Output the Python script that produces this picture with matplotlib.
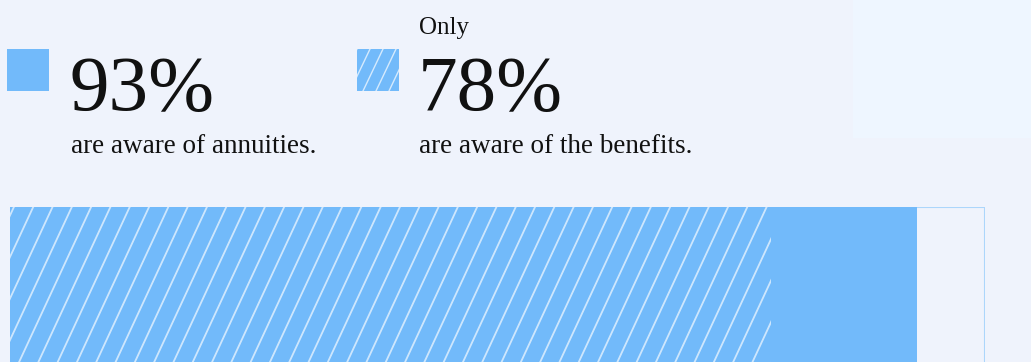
import numpy as np
import matplotlib
matplotlib.use("Agg")
import matplotlib.pyplot as plt
from matplotlib.patches import Rectangle

# awareness figures (percent of respondents)
aware_annuities = 93
aware_benefits = 78
big_labels = ["93%", "78%"]
sub_labels = ["are aware of annuities.", "are aware of the benefits."]
lead_word = "Only"

BG = "#eff3fc"
BLUE = "#72bafa"
EDGE = "#acd6fb"
W, H = 1031, 362

plt.rcParams["font.family"] = ["Liberation Serif", "DejaVu Serif"]

fig = plt.figure(figsize=(W / 100, H / 100), dpi=100, facecolor=BG)

# canvas in pixel coordinates for the legend block
canvas = fig.add_axes([0, 0, 1, 1])
canvas.set_xlim(0, W)
canvas.set_ylim(H, 0)
canvas.axis("off")
canvas.add_patch(Rectangle((853, 0), W - 853, 138, color="#eef6ff", lw=0, zorder=0))


def hatch_lines(ax, clip, x0, x1, y0, y1, step, lean, **kw):
    # slanted hatch lines in pixel space, clipped to a patch
    for xs in np.arange(x0 - lean, x1 + lean, step):
        ln, = ax.plot([xs, xs + lean], [y1, y0], **kw)
        ln.set_clip_path(clip)


# legend swatches
canvas.add_patch(Rectangle((7, 49), 42, 42, color=BLUE, lw=0))
sw = Rectangle((357, 49), 42, 42, color=BLUE, lw=0)
canvas.add_patch(sw)
hatch_lines(canvas, sw, 357, 399, 49, 91, 13, 20, color="white", lw=1.0, alpha=0.7)

# legend text
txt = dict(color="#111111", va="baseline")
canvas.text(70, 110, big_labels[0], fontsize=57, **txt)
canvas.text(418, 110, big_labels[1], fontsize=57, **txt)
canvas.text(419, 34, lead_word, fontsize=18, **txt)
canvas.text(71, 153, sub_labels[0], fontsize=19.5, **txt)
canvas.text(419, 153, sub_labels[1], fontsize=19.5, **txt)

# stacked awareness bar
ax = fig.add_axes([10 / W, 0, 975 / W, 155 / H])
ax.set_xlim(0, 100)
ax.set_ylim(0, 1)
ax.axis("off")
ax.add_patch(Rectangle((0, -0.5), 100, 1.5, facecolor=BG, edgecolor=EDGE, lw=1.5))
ax.barh(0.25, aware_annuities, height=1.5, left=0, color=BLUE, lw=0)
hatched = ax.barh(0.25, aware_benefits, height=1.5, left=0, color="none", lw=0)[0]

# hatch lines for the "aware of benefits" share, spacing given in pixels
x_step = 19.3 / (975 / 100)
lean = 72.0 / (975 / 100)
for xs in np.arange(0.4 - lean, aware_benefits + lean, x_step):
    ln, = ax.plot([xs, xs + lean], [0, 1], color="white", lw=1.3, alpha=0.65)
    ln.set_clip_path(hatched)

fig.savefig("out.png", dpi=100, facecolor=BG)
